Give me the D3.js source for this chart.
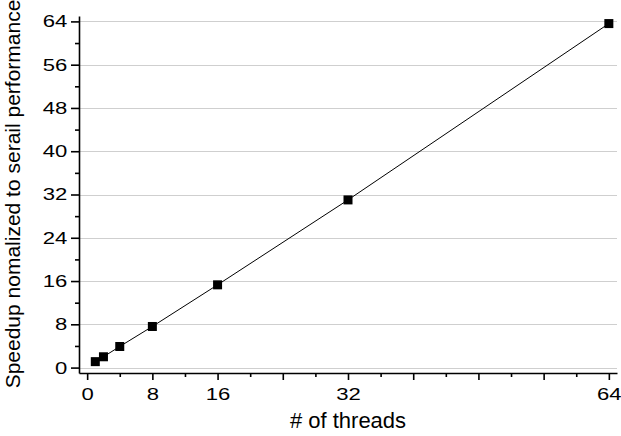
<!DOCTYPE html>
<html>
<head>
<meta charset="utf-8">
<script src="https://cdn.jsdelivr.net/npm/d3@7"></script>
<style>
  body { margin: 0; background: #fff; }
  text { font-family: "Liberation Sans", Arial, sans-serif; fill: #000; }
</style>
</head>
<body>
<div id="chart"></div>
<script>
const threads = [1, 2, 4, 8, 16, 32, 64];
const speedup = [1.1, 2.0, 3.9, 7.6, 15.3, 31.0, 63.6];
const xTickLabels = [0, 8, 16, 32, 64];
const yTickLabels = [0, 8, 16, 24, 32, 40, 48, 56, 64];

const width = 621, height = 436;
const margin = { top: 16, right: 4, bottom: 63, left: 79 };

const svg = d3.select('#chart').append('svg')
  .attr('width', width)
  .attr('height', height);

const x_scale = d3.scaleLinear()
  .domain([-1, 65])
  .range([margin.left, width - margin.right]);

const y_scale = d3.scaleLinear()
  .domain([-1, 65])
  .range([height - margin.bottom, margin.top]);

// gridlines
svg.append('g')
  .attr('class', 'grid')
  .selectAll('line')
  .data(yTickLabels)
  .enter().append('line')
  .attr('x1', margin.left)
  .attr('x2', width - margin.right)
  .attr('y1', (d) => Math.round(y_scale(d)) + 0.5)
  .attr('y2', (d) => Math.round(y_scale(d)) + 0.5)
  .attr('stroke', '#cfcfcf')
  .attr('stroke-width', 1);

const minorTicks = d3.range(0, 65, 4).filter((d) => d % 8 !== 0);
const majorTicks = d3.range(0, 65, 8);

// x axis
const xAxisY = height - margin.bottom;
const gx = svg.append('g')
  .attr('transform', 'translate(0,' + xAxisY + ')');
gx.append('g')
  .call(d3.axisBottom(x_scale).tickValues(minorTicks).tickSize(4).tickFormat('').tickSizeOuter(0))
  .call((g) => g.select('.domain').remove());
gx.append('g')
  .call(d3.axisBottom(x_scale).tickValues(majorTicks).tickSize(7).tickSizeOuter(0)
    .tickFormat((d) => xTickLabels.includes(d) ? d : ''))
  .call((g) => g.selectAll('text')
    .attr('y', 27).attr('dy', 0)
    .attr('transform', 'scale(1.3,1)')
    .style('font-size', '17px'));
gx.selectAll('.domain, line').attr('stroke', '#000').attr('stroke-width', 1.6);

// y axis
const gy = svg.append('g')
  .attr('transform', 'translate(' + margin.left + ',0)');
gy.append('g')
  .call(d3.axisLeft(y_scale).tickValues(minorTicks).tickSize(4).tickFormat('').tickSizeOuter(0))
  .call((g) => g.select('.domain').remove());
gy.append('g')
  .call(d3.axisLeft(y_scale).tickValues(yTickLabels).tickSize(8).tickSizeOuter(0))
  .call((g) => g.selectAll('text')
    .attr('x', -9)
    .attr('transform', 'scale(1.3,1)')
    .style('font-size', '17px'));
gy.selectAll('.domain, line').attr('stroke', '#000').attr('stroke-width', 1.6);

// line + markers
const points = threads.map((t, i) => ({ t: t, s: speedup[i] }));

svg.append('path')
  .datum(points)
  .attr('fill', 'none')
  .attr('stroke', '#000')
  .attr('stroke-width', 1)
  .attr('d', d3.line().x((d) => x_scale(d.t)).y((d) => y_scale(d.s)));

const sq = 9;
svg.append('g')
  .selectAll('rect')
  .data(points)
  .enter().append('rect')
  .attr('x', (d) => x_scale(d.t) - sq / 2)
  .attr('y', (d) => y_scale(d.s) - sq / 2)
  .attr('width', sq)
  .attr('height', sq)
  .attr('fill', '#000');

// axis titles
svg.append('text')
  .attr('x', (margin.left + width - margin.right) / 2)
  .attr('y', 428)
  .attr('text-anchor', 'middle')
  .style('font-size', '22px')
  .text('# of threads');

svg.append('text')
  .attr('transform', 'translate(20,194) rotate(-90)')
  .attr('text-anchor', 'middle')
  .style('font-size', '21px')
  .text('Speedup nomalized to serail performance');
</script>
</body>
</html>
